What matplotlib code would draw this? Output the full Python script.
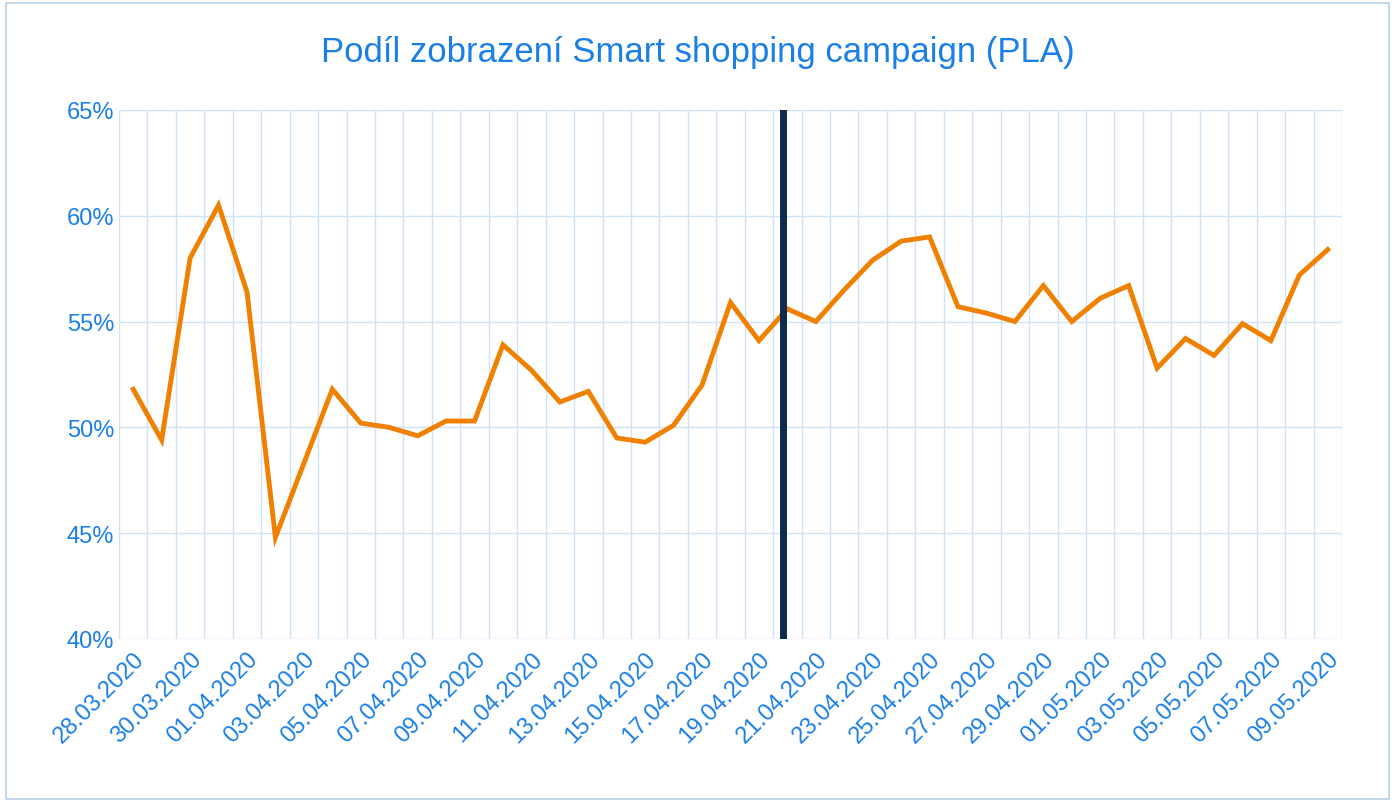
# Podíl zobrazení Smart shopping campaign (PLA) - recreated chart
from datetime import date, timedelta
import matplotlib
matplotlib.use("Agg")
import matplotlib.pyplot as plt
import matplotlib.ticker as tck
from matplotlib.patches import Rectangle

plt.rcParams["font.family"] = "Liberation Sans"

TITLE = "Podíl zobrazení Smart shopping campaign (PLA)"
START = date(2020, 3, 28)

share = [51.8, 49.4, 58.0, 60.5, 56.4, 44.8, 48.3, 51.8, 50.2, 50.0,
         49.6, 50.3, 50.3, 53.9, 52.7, 51.2, 51.7, 49.5, 49.3, 50.1,
         52.0, 55.9, 54.1, 55.6, 55.0, 56.5, 57.9, 58.8, 59.0, 55.7,
         55.4, 55.0, 56.7, 55.0, 56.1, 56.7, 52.8, 54.2, 53.4, 54.9,
         54.1, 57.2, 58.4]
dates = [(START + timedelta(days=i)).strftime("%d.%m.%Y") for i in range(len(share))]
marker_pos = 22.85  # dark vertical marker between 19.04 and 20.04

BLUE = "#1a7fe6"
ORANGE = "#f08000"
GRID = "#cfe3f7"

fig = plt.figure(figsize=(13.95, 8.04), dpi=100)
fig.patches.append(Rectangle((0.004, 0.005), 0.992, 0.99, transform=fig.transFigure,
                             fill=False, edgecolor="#b8cfe6", linewidth=1.2))
ax = fig.add_axes([0.0853, 0.204, 0.8767, 0.658])

x = list(range(len(share)))
ax.plot(x, share, color=ORANGE, linewidth=3.5, solid_joinstyle="miter", zorder=3)
ax.axvline(marker_pos, color="#0d2a4f", linewidth=5, zorder=4)

ax.set_xlim(-0.5, len(share) - 0.5)
ax.set_ylim(40, 65)
ax.yaxis.set_major_locator(tck.MultipleLocator(5))
ax.yaxis.set_major_formatter(tck.StrMethodFormatter("{x:.0f}%"))
ax.set_xticks([i - 0.5 for i in range(len(share) + 1)], minor=True)
ax.set_xticks(x[::2])
ax.set_xticklabels(dates[::2], rotation=45, ha="right", rotation_mode="anchor")
ax.grid(True, which="minor", axis="x", color=GRID, linewidth=1)
ax.grid(True, which="major", axis="y", color=GRID, linewidth=1)
ax.set_axisbelow(True)
for s in ax.spines.values():
    s.set_visible(False)
ax.tick_params(which="both", length=0, labelcolor=BLUE, labelsize=17)
ax.tick_params(axis="x", pad=6)

fig.suptitle(TITLE, color=BLUE, fontsize=25, y=0.955)
fig.savefig("out.png", dpi=100)
